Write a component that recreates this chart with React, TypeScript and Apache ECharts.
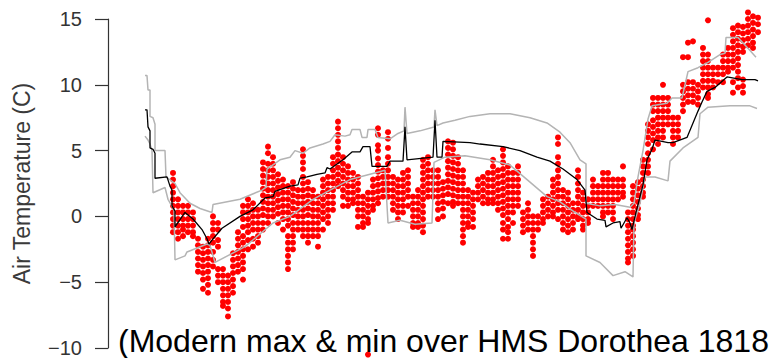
import React, { useEffect, useRef } from "react";
import * as echarts from "echarts";

// x: day index of the voyage segment shown, y: air temperature (°C)
const yTicks = [-10, -5, 0, 5, 10, 15];

// Modern mean (black)
const meanLine: number[][] = [
  [0.4, 8.1], [0.8, 8.1], [1.0, 6.8], [1.4, 6.5], [1.4, 5.2], [2.0, 5.1], [2.4, 4.8], [2.4, 2.9],
  [4.8, 3.0], [5.4, 2.3], [5.8, 2.0], [5.8, 0.8], [6.4, 0.4], [6.4, -0.8], [8.4, 0.3], [10.0, -0.2],
  [11.8, -1.0], [12.8, -1.7], [13.2, -2.1], [13.8, -1.8], [15.8, -0.9], [19.4, 0.0], [22.0, 0.5],
  [24.4, 1.4], [26.0, 1.5], [26.4, 1.9], [29.4, 2.3], [31.0, 2.4], [31.4, 2.9], [32.8, 3.0], [34.8, 3.2],
  [36.4, 3.3], [36.8, 3.7], [37.4, 3.6], [40.0, 4.3], [41.8, 4.9], [43.4, 4.9], [44.0, 5.3], [45.4, 5.3],
  [45.8, 3.8], [48.8, 3.8], [49.4, 4.2], [52.0, 4.2], [52.4, 6.8], [52.8, 4.3], [58.0, 4.5], [58.4, 7.3],
  [58.8, 4.5], [59.8, 4.5], [60.0, 5.7], [65.4, 5.6], [67.4, 5.5], [72.0, 5.3], [75.4, 5.0], [78.8, 4.5],
  [81.4, 4.2], [84.0, 3.6], [85.4, 3.2], [86.8, 2.8], [88.4, 2.0], [88.8, 0.3], [90.8, -0.2], [92.4, -0.3],
  [92.6, -0.8], [94.0, -0.5], [95.4, -0.4], [95.6, -0.9], [96.8, -0.1], [97.4, -0.5], [97.8, -1.0],
  [98.6, 0.3], [100.0, 2.4], [100.8, 4.3], [101.8, 5.1], [102.4, 5.8], [103.8, 5.7], [105.0, 5.6],
  [106.0, 5.6], [108.8, 6.0], [111.0, 8.0], [111.8, 8.7], [112.8, 9.5], [114.4, 9.8], [116.8, 10.6],
  [119.8, 10.4], [122.4, 10.4], [123.0, 10.3]
];

// Modern maximum (grey)
const maxLine: number[][] = [
  [0.4, 10.7], [0.8, 10.7], [1.0, 9.6], [1.4, 9.6], [1.4, 7.6], [2.0, 7.5], [2.4, 7.0], [2.4, 5.0],
  [4.4, 5.0], [4.6, 3.0], [6.4, 2.5], [7.4, 1.8], [9.4, 1.0], [11.4, 0.6], [13.8, 0.3], [14.0, 0.9],
  [19.4, 1.3], [23.8, 2.0], [24.6, 2.2], [24.8, 3.6], [27.4, 4.3], [29.4, 4.5], [30.4, 5.0], [32.0, 4.8],
  [33.4, 5.2], [36.0, 5.5], [37.4, 5.7], [38.4, 6.2], [40.4, 6.1], [41.4, 6.2], [41.8, 6.6], [43.4, 6.6],
  [43.8, 6.0], [44.8, 6.0], [45.0, 6.6], [46.4, 6.6], [47.0, 6.0], [49.4, 5.9], [51.0, 6.3], [52.2, 6.5],
  [52.4, 8.3], [52.8, 6.3], [55.4, 6.5], [58.2, 6.8], [58.4, 8.1], [58.8, 6.9], [60.0, 7.1], [62.4, 7.3],
  [65.4, 7.6], [69.4, 7.8], [73.4, 7.8], [77.4, 7.5], [80.8, 7.1], [83.4, 6.4], [85.4, 5.6], [87.4, 4.3],
  [88.6, 4.0], [88.6, 1.0], [91.4, 0.8], [94.4, 0.9], [97.4, 0.7], [98.2, 1.0], [99.0, 3.0], [100.0, 5.0],
  [101.0, 7.4], [101.8, 8.4], [104.8, 8.6], [105.8, 9.0], [107.8, 9.0], [109.0, 11.0], [111.0, 11.3],
  [113.0, 11.7], [115.4, 12.3], [116.4, 12.4], [116.6, 13.6], [119.0, 13.6], [121.4, 12.6], [122.6, 12.1]
];

// Modern minimum (grey)
const minLine: number[][] = [
  [0.4, 6.1], [1.0, 5.8], [1.4, 5.5], [1.8, 5.0], [2.0, 1.8], [4.4, 2.2], [5.0, 1.3], [6.2, 0.5],
  [6.4, -3.3], [8.4, -3.0], [8.8, -2.7], [12.8, -2.1], [13.4, -2.2], [14.4, -3.5], [20.4, -2.3],
  [26.0, -0.5], [29.4, 0.0], [34.0, 1.3], [37.4, 2.0], [41.4, 2.8], [45.4, 3.2], [48.4, 3.5], [49.0, -0.5],
  [51.4, -0.3], [54.4, -0.6], [57.8, -0.5], [58.2, 4.1], [60.4, 4.5], [64.4, 4.6], [69.4, 4.3],
  [73.4, 3.9], [77.4, 2.6], [80.8, 1.5], [83.4, 1.1], [86.4, 0.3], [88.6, -0.2], [88.6, -3.0],
  [91.4, -3.5], [94.0, -4.5], [96.4, -4.2], [98.0, -4.6], [98.2, -0.5], [99.4, 1.0], [100.4, 3.0],
  [102.4, 3.0], [105.0, 2.7], [105.4, 4.2], [108.0, 5.2], [111.0, 6.0], [111.4, 7.8], [113.0, 8.3],
  [117.4, 8.4], [121.4, 8.4], [122.8, 8.2]
];

// HMS Dorothea 1818 observations: [day, temp, temp, ...]
const obsLeg1: number[][] = [
  [6, 3.3, 2.8, 2.3, 1.8, 1.3, 0.8, 0.3, -0.2, -0.7, -1.2],
  [7, 1.3, 0.8, 0.3, -0.2, -0.7, -1.2, -1.7],
  [8, 0.8, 0.3, -0.2, -0.7, -1.0, -1.5],
  [9, 0.8, 0.3, -0.2, -0.7, -1.2],
  [10, 0.3, -0.2, -0.7, -1.2, -1.5],
  [11, -1.7, -2.2, -2.7, -3.2, -3.7, -4.2],
  [12, -2.3, -2.8, -3.3, -3.8, -4.3, -4.8, -5.5],
  [13, -1.7, -2.2, -2.7, -3.2, -3.7, -4.2, -4.7, -5.2, -5.8],
  [14, 0.0, -0.5, -1.0, -1.5, -2.0, -2.7, -3.3, -3.8],
  [15, -0.5, -1.0, -1.8, -2.3, -4.0, -4.5, -5.0],
  [16, -4.0, -4.5, -5.0, -5.5, -6.0, -6.5, -6.8],
  [17, -4.5, -5.0, -5.5, -6.0, -6.5, -7.0, -7.6],
  [18, -2.8, -3.3, -3.8, -4.3, -4.8, -5.3, -5.8],
  [19, -1.2, -1.7, -2.2, -2.7, -3.2, -3.7, -4.2],
  [20, 0.8, 0.3, -0.2, -0.8, -1.5, -2.0, -2.5, -3.0, -3.5, -4.0, -4.8],
  [21, 1.3, 0.8, 0.3, -0.2, -0.7, -1.2, -1.8, -2.5],
  [22, 1.0, 0.5, 0.0, -0.5, -1.0, -1.7, -2.3],
  [23, 0.5, 0.0, -0.5, -1.0, -1.5, -2.0],
  [24, 4.1, 3.6, 3.1, 2.6, 2.1, 1.6, 1.1, 0.6, 0.1, -0.5, -1.0],
  [25, 5.3, 4.8, 4.0, 3.5, 3.0, 2.5, 2.0, 1.5, 1.0, 0.5, 0.0, -0.5],
  [26, 4.5, 4.0, 3.5, 3.0, 2.5, 2.0, 1.5, 1.0, 0.5, 0.0],
  [27, 3.2, 2.7, 2.2, 1.7, 1.2, 0.7, 0.2, -0.5],
  [28, 2.8, 2.3, 1.8, 1.3, 0.8, 0.3, -0.2, -1.0],
  [29, 2.3, 1.8, 1.3, 0.8, 0.3, -0.2, -0.7, -1.5, -2.0, -2.5, -3.0, -3.5, -4.0],
  [30, 2.6, 2.1, 1.6, 1.1, 0.6, 0.1, -0.5, -1.0, -1.5, -2.0, -2.5]
];
const obsLeg2: number[][] = [
  [31, 2.0, 1.5, 1.0, 0.5, 0.0, -0.5, -1.0],
  [32, 5.1, 4.6, 4.1, 3.6, 3.0, 2.5, 2.0, 1.5, 1.0, 0.5, 0.0, -0.5, -1.0, -1.5],
  [33, 2.6, 2.1, 1.6, 1.1, 0.6, 0.1, -0.5, -1.0, -1.5, -2.0],
  [34, 2.0, 1.5, 1.0, 0.5, 0.0, -0.5, -1.0, -1.5],
  [35, 1.5, 1.0, 0.5, 0.0, -0.5, -1.0, -1.5, -2.3],
  [36, 2.8, 2.3, 1.8, 1.3, 0.8, 0.3, -0.2, -1.0],
  [37, 3.0, 2.5, 2.0, 1.5, 1.0, 0.5, 0.0, -0.5],
  [38, 4.5, 4.0, 3.5, 3.0, 2.5, 2.0, 1.5, 1.0, 0.5],
  [39, 7.2, 6.7, 6.2, 5.7, 5.2, 4.7, 4.2, 3.7, 3.2, 2.7, 2.3],
  [40, 4.5, 4.0, 3.5, 3.0, 2.5, 2.0, 1.5, 0.8],
  [41, 3.8, 3.3, 2.8, 2.3, 1.8, 1.3, 0.8],
  [42, 3.3, 2.8, 2.3, 1.8, 1.3, 1.0],
  [43, 3.0, 2.5, 2.0, 1.5, 1.0, 0.5, 0.0, -0.8],
  [44, 1.5, 1.0, 0.5, 0.0, -0.5, -0.8],
  [45, 1.8, 1.3, 0.8, 0.3, -0.2, -0.5, -10.5],
  [46, 2.8, 2.3, 1.8, 1.3, 0.8, 0.5],
  [47, 6.7, 6.2, 5.4, 5.0, 4.4, 3.9, 3.4, 2.9, 2.4, 1.9, 1.4, 1.0],
  [48, 3.5, 3.0, 2.5, 2.0, 1.5],
  [49, 6.4, 5.9, 5.2, 4.5, 4.0, 3.5, 3.0, 2.5, 2.0, 1.5],
  [50, 3.0, 2.5, 2.0, 1.5, 1.0, 0.5],
  [51, 2.8, 2.3, 1.8, 1.3, 0.8, 0.3, -0.2],
  [52, 3.3, 2.8, 2.3, 1.8, 1.3, 0.8, 0.3],
  [53, 3.5, 3.0, 2.5, 2.0, 1.5, 0.8],
  [54, 1.5, 1.0, 0.5, 0.0, -0.5, -0.8],
  [55, 2.0, 1.5, 1.0, 0.5, 0.0, -0.5, -0.8],
  [56, 4.3, 3.8, 3.3, 2.8, 2.3, 1.8, 1.3, 0.8, 0.3, -0.2, -0.7, -1.2],
  [57, 4.5, 4.0, 3.5, 3.0, 2.5, 2.0, 1.5],
  [58, 3.5, 3.0, 2.5, 2.0, 1.5],
  [59, 3.5, 3.0, 2.5, 2.0, 1.5, 1.0, 0.5, -0.2],
  [60, 2.6, 2.1, 1.6, 1.1, 0.6, 0.0]
];
const obsLeg3: number[][] = [
  [61, 5.7, 5.2, 4.7, 4.2, 3.7, 3.2, 2.7, 2.2, 1.7, 1.0],
  [62, 5.6, 5.1, 4.6, 4.1, 3.6, 3.1, 2.6, 2.1, 1.6, 1.1, 0.8],
  [63, 4.5, 4.0, 3.5, 3.0, 2.5, 2.0, 1.5, 1.0],
  [64, 3.5, 3.0, 2.5, 2.0, 1.5, 1.0, 0.5, 0.0, -0.5, -1.0, -1.5, -2.0],
  [65, 2.0, 1.5, 1.0, 0.5, 0.0, -0.5, -0.8],
  [66, 1.8, 1.3, 0.8, 0.3, -0.2, -0.8],
  [67, 2.8, 2.3, 1.8, 1.3],
  [68, 3.0, 2.5, 2.0, 1.5, 1.0],
  [69, 3.3, 2.8, 2.3, 1.8, 1.3, 1.0],
  [70, 4.3, 3.8, 3.3, 2.8, 2.3, 1.8, 1.3, 1.0],
  [71, 3.5, 3.0, 2.5, 2.0, 1.5, 1.0, 0.5],
  [72, 5.1, 4.6, 4.1, 3.6, 3.1, 2.6, 2.1, 1.6, 1.1, 0.6, 0.1, -0.5, -1.0, -1.7],
  [73, 3.8, 3.3, 2.8, 2.3, 1.8, 1.3, 0.8, 0.3, -0.2, -0.8, -1.2, -1.7],
  [74, 3.3, 2.8, 2.3, 1.8, 1.3, 0.8, 0.3, -0.5],
  [75, 3.8, 3.3, 2.8, 2.3, 1.8, 1.3, 0.8],
  [76, 0.3, -0.2, -0.7, -1.2],
  [77, 1.0, 0.5, 0.0, -0.5, -1.0],
  [78, 0.0, -0.5, -1.0, -1.5, -2.0, -2.5, -3.0],
  [79, 0.0, -0.5, -1.0],
  [80, 1.3, 0.8, 0.3, -0.2, -0.5],
  [81, 1.5, 1.0, 0.5, 0.0],
  [82, 2.8, 2.3, 1.8, 1.3, 0.8, 0.3, 0.0],
  [83, 6.0, 5.5, 4.5, 4.0, 3.5, 3.0, 2.5, 2.0, 1.5, 1.0, 0.5, -0.2],
  [84, 2.0, 1.5, 1.0, 0.5, 0.0, -0.5, -1.0],
  [85, 1.8, 1.3, 0.8, 0.3, -0.2, -0.7, -1.2],
  [86, 1.0, 0.5, 0.0, -0.5, -1.0],
  [87, 3.5, 3.0, 2.5, 2.0, 1.5, 1.0, 0.5, 0.0, -0.2],
  [88, 1.8, 1.3, 0.8, 0.3, -0.2, -0.7, -1.0],
  [89, 1.3, 0.8, 0.3, -0.2, -0.5],
  [90, 2.8, 2.3, 1.8, 1.3, 0.8]
];
const obsLeg4: number[][] = [
  [91, 2.3, 1.8, 1.3, 0.8],
  [92, 3.3, 2.8, 2.3, 1.8, 1.3, 0.8, 0.3, 0.0],
  [93, 3.3, 2.8, 2.3, 1.8, 1.3, 0.8, 0.3],
  [94, 2.8, 2.3, 1.8, 1.3, 0.8, 0.3, -0.2],
  [95, 2.8, 2.3, 1.8, 1.3],
  [96, 3.8, 2.8, 2.3, 1.8, 1.5],
  [97, 0.3, -0.2, -0.7, -1.2, -1.7, -2.2, -2.7, -3.2, -3.5],
  [98, 2.3, 1.8, 1.3, 0.8, 0.3, -0.2, -0.7, -1.0, -1.5, -2.0, -2.5, -3.0],
  [99, 2.6, 2.1, 1.6, 1.1, 0.6, 0.1, -0.2],
  [100, 4.3, 3.8, 3.3, 2.8, 2.3, 1.8, 1.5],
  [101, 7.0, 6.5, 6.0, 5.5, 4.8, 4.3, 3.8, 3.3],
  [102, 9.0, 8.5, 8.0, 7.3, 6.8, 6.3, 5.8, 5.1],
  [103, 9.0, 8.5, 8.0, 7.5, 7.0, 6.5, 6.0, 5.5],
  [104, 10.0, 9.0, 8.5, 8.0, 7.5, 7.0, 6.5, 6.0],
  [105, 9.0, 8.5, 8.0, 7.5, 7.0],
  [106, 7.5, 7.0, 6.5, 6.0, 5.5],
  [107, 7.5, 7.0, 6.5, 6.0],
  [108, 12.1, 10.0, 9.5, 9.0, 8.5, 8.0],
  [109, 13.2, 12.1, 10.2, 9.7, 9.2, 8.7],
  [110, 13.3, 10.2, 9.7, 9.2, 8.7],
  [111, 10.0, 9.5, 9.0, 8.5],
  [112, 12.8, 12.3, 11.8, 11.3, 10.8, 10.3, 9.8],
  [113, 14.9, 12.3, 11.8, 11.3, 10.8, 10.3, 9.8, 9.3, 9.0],
  [114, 11.3, 10.8, 10.3, 9.8],
  [115, 11.3, 10.8, 10.2],
  [116, 12.3, 11.8, 11.3, 10.8, 10.2],
  [117, 12.8, 12.3, 11.8, 11.3, 11.0],
  [118, 14.3, 13.8, 13.3, 12.8, 12.3, 11.8, 11.3, 10.2, 9.4],
  [119, 14.5, 14.0, 13.5, 13.0, 12.5, 12.0, 11.5, 11.0, 10.5, 9.8],
  [120, 14.4, 13.9, 13.4, 12.9, 12.5, 10.4, 9.9, 9.4],
  [121, 15.5, 15.0, 14.5, 14.0, 13.5, 13.0],
  [122, 15.2, 14.7, 14.2, 13.7, 13.2, 12.8],
  [123, 15.1, 14.6, 14.0]
];

const caption = "(Modern max & min over HMS Dorothea 1818";
const FONT = '"Liberation Sans", Arial, Helvetica, sans-serif';

function flatten(cols: number[][]): number[][] {
  const out: number[][] = [];
  cols.forEach((c) => {
    for (let i = 1; i < c.length; i++) out.push([c[0], c[i]]);
  });
  return out;
}

export default function App() {
  const ref = useRef<HTMLDivElement>(null);
  useEffect(() => {
    if (!ref.current) return;
    const chart = echarts.init(ref.current, undefined, { renderer: "svg" });
    const obs = [...flatten(obsLeg1), ...flatten(obsLeg2), ...flatten(obsLeg3), ...flatten(obsLeg4)];
    chart.setOption({
      animation: false,
      grid: { left: 108, right: 6, top: 19, bottom: 9, containLabel: false },
      xAxis: { type: "value", min: -7, max: 125, show: false },
      yAxis: {
        type: "value",
        min: yTicks[0],
        max: yTicks[yTicks.length - 1],
        interval: 5,
        name: "Air Temperature (C)",
        nameLocation: "middle",
        nameGap: 75,
        nameRotate: 90,
        nameTextStyle: { fontSize: 23, color: "#3a3a3a", fontFamily: FONT },
        axisLine: { show: true, onZero: false, lineStyle: { color: "#333", width: 1.2 } },
        axisTick: { show: true, length: 13, lineStyle: { color: "#333", width: 1.2 } },
        axisLabel: {
          margin: 26,
          fontSize: 20,
          color: "#333",
          fontFamily: FONT,
          formatter: (v: number) => String(v).replace("-", "\u2212"),
        },
        splitLine: { show: false },
      },
      series: [
        {
          type: "scatter",
          data: obs,
          symbol: "circle",
          symbolSize: 6,
          itemStyle: { color: "#ff0000", opacity: 1 },
          clip: false,
          z: 2,
        },
        {
          type: "line",
          data: maxLine,
          showSymbol: false,
          lineStyle: { color: "#b4b4b4", width: 1.5 },
          z: 3,
        },
        {
          type: "line",
          data: minLine,
          showSymbol: false,
          lineStyle: { color: "#b4b4b4", width: 1.5 },
          z: 3,
        },
        {
          type: "line",
          data: meanLine,
          showSymbol: false,
          lineStyle: { color: "#000", width: 1.3 },
          z: 4,
        },
      ],
      graphic: [
        {
          type: "text",
          x: 118,
          y: 341,
          z: 10,
          style: {
            text: caption,
            fill: "#000",
            font: `32px ${FONT}`,
            align: "left",
            verticalAlign: "middle",
          },
        },
      ],
    });
    return () => chart.dispose();
  }, []);
  return (
    <div
      ref={ref}
      style={{ position: "fixed", left: 0, top: 0, width: 774, height: 358, background: "#fff" }}
    />
  );
}
